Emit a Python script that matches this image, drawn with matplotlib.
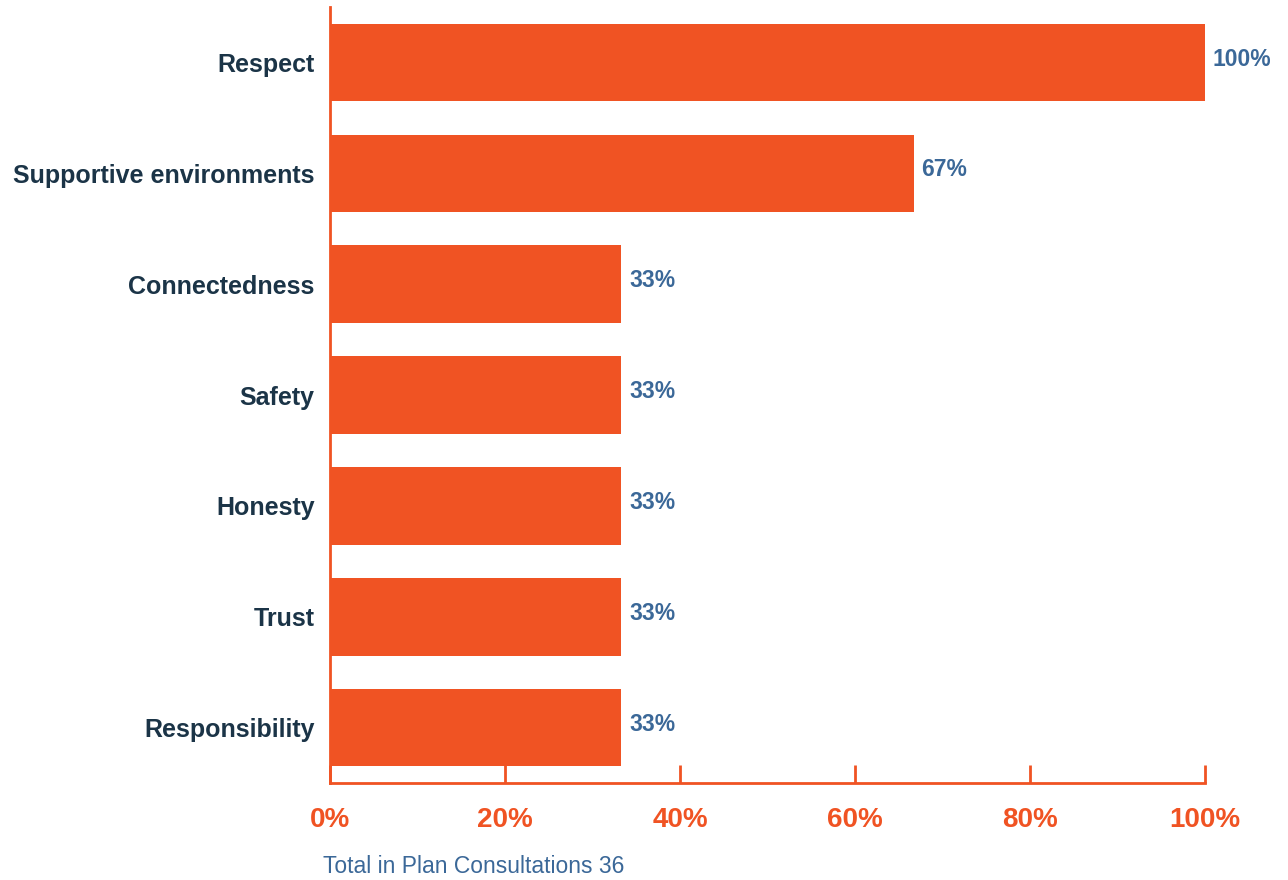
import matplotlib.pyplot as plt

# Data
categories = ['Respect', 'Supportive environments', 'Connectedness', 'Safety',
              'Honesty', 'Trust', 'Responsibility']
values = [100, 66.7, 33.3, 33.3, 33.3, 33.3, 33.3]
xticks = [0, 20, 40, 60, 80, 100]
footer = 'Total in Plan Consultations 36'

orange = '#F05323'
navy = '#1B3447'
blue = '#3B6898'

plt.rcParams['font.family'] = ['Liberation Sans', 'DejaVu Sans']

fig = plt.figure(figsize=(12.88, 8.8), dpi=100)
ax = fig.add_axes([0.2562, 0.1102, 0.6794, 0.8818])

pos = list(range(len(categories)))
ax.barh(pos, values, height=0.7, color=orange)

# Value labels
for p, v in zip(pos, values):
    ax.text(v + 0.9, p - 0.03, f'{round(v)}%', va='center', ha='left',
            fontsize=16.5, fontweight='bold', color=blue)

ax.set_ylim(len(categories) - 0.5, -0.5)
ax.set_xlim(0, 100)
ax.set_yticks(pos)
ax.set_yticklabels(categories, fontsize=18, fontweight='bold', color=navy)
ax.tick_params(axis='y', length=0, pad=11)

ax.set_xticks(xticks)
ax.set_xticklabels([f'{t}%' for t in xticks], fontsize=20, fontweight='bold', color=orange)
ax.tick_params(axis='x', direction='in', length=13, width=2, color=orange, pad=17.5)

for s in ['top', 'right']:
    ax.spines[s].set_visible(False)
for s in ['left', 'bottom']:
    ax.spines[s].set_color(orange)
    ax.spines[s].set_linewidth(2)

fig.text(323 / 1288, 1 - 866 / 880, footer, fontsize=16.5, color=blue, va='center', ha='left')

fig.savefig('out.png', dpi=100)
